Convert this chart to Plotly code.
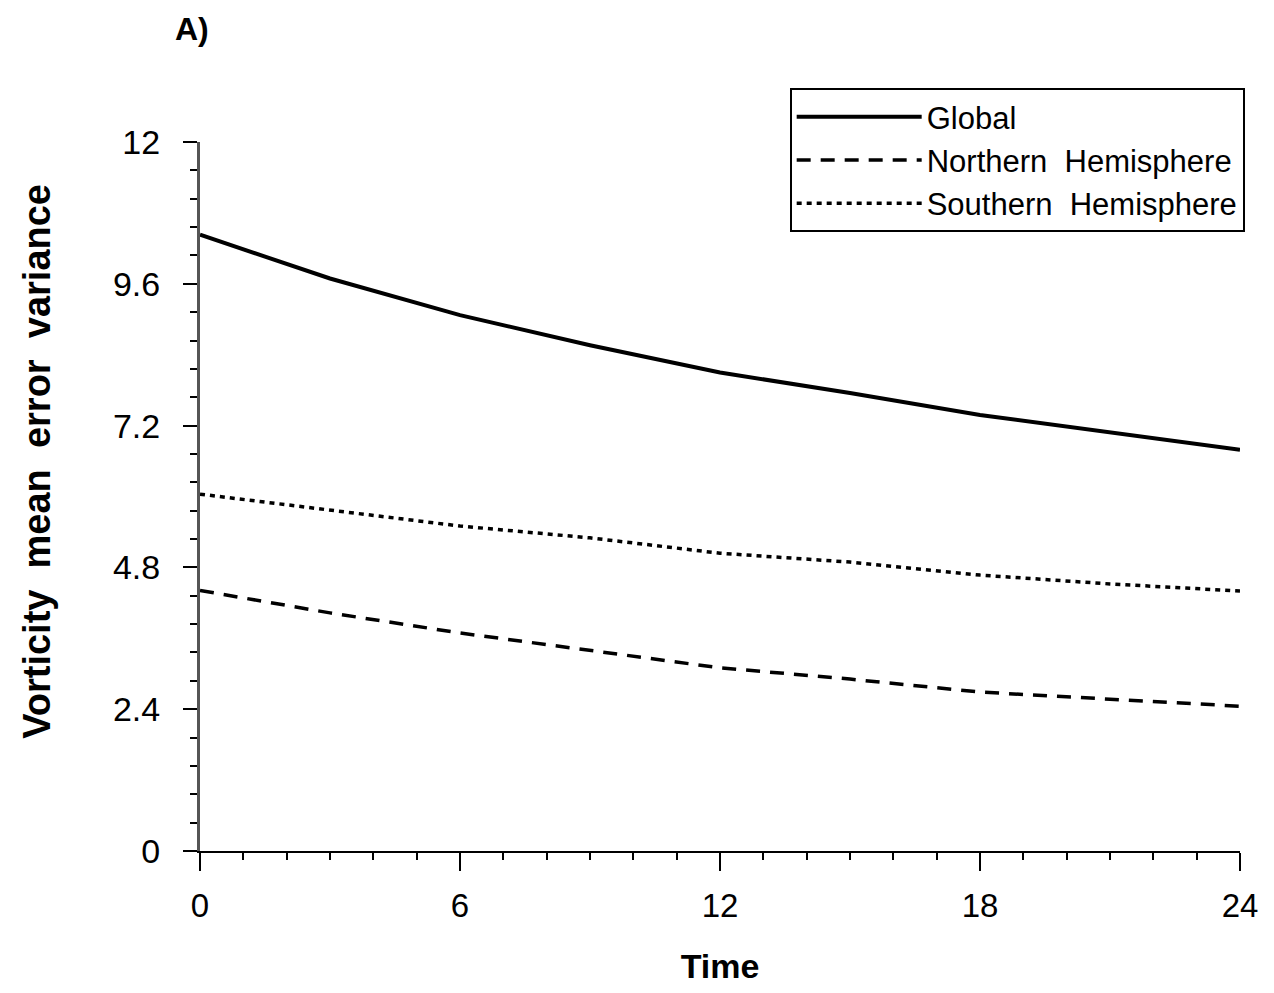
import plotly.graph_objects as go

time_h = [0, 3, 6, 9, 12, 15, 18, 21, 24]
global_var = [10.43, 9.69, 9.07, 8.56, 8.10, 7.75, 7.38, 7.09, 6.79]
north_var = [4.41, 4.03, 3.69, 3.40, 3.10, 2.91, 2.69, 2.57, 2.45]
south_var = [6.04, 5.77, 5.50, 5.30, 5.04, 4.89, 4.67, 4.52, 4.40]

x_ticks = [0, 6, 12, 18, 24]
y_ticks = [0, 2.4, 4.8, 7.2, 9.6, 12]
y_tick_labels = ["0", "2.4", "4.8", "7.2", "9.6", "12"]

FONT = "Liberation Sans, Arial, Helvetica, sans-serif"

fig = go.Figure()
fig.add_trace(go.Scatter(x=time_h, y=global_var, mode="lines", name="Global",
                         line=dict(color="black", width=4, dash="solid")))
fig.add_trace(go.Scatter(x=time_h, y=north_var, mode="lines", name="Northern  Hemisphere",
                         line=dict(color="black", width=3.5, dash="14px,10px")))
fig.add_trace(go.Scatter(x=time_h, y=south_var, mode="lines", name="Southern  Hemisphere",
                         line=dict(color="black", width=3.5, dash="5px,5px")))

fig.update_layout(
    width=1258, height=977,
    margin=dict(l=192, r=26, t=134, b=134, autoexpand=False),
    paper_bgcolor="white", plot_bgcolor="white",
    font=dict(family=FONT, color="black"),
    showlegend=True,
    legend=dict(
        x=0.567, y=1.076, xanchor="left", yanchor="top",
        bgcolor="white", bordercolor="black", borderwidth=2,
        font=dict(size=31, family=FONT, color="black"),
        itemwidth=125, tracegroupgap=0,
    ),
    annotations=[
        dict(text="<b>A)</b>", x=-0.008, xref="paper", xanchor="center",
             y=1.16, yref="paper", yanchor="middle", showarrow=False,
             font=dict(size=32, family=FONT, color="black")),
        dict(text="<b>Vorticity  mean  error  variance</b>", textangle=-90,
             x=-0.157, xref="paper", xanchor="center",
             y=0.55, yref="paper", yanchor="middle", showarrow=False,
             font=dict(size=38, family=FONT, color="black")),
    ],
)

fig.update_xaxes(
    automargin=False,
    range=[0, 24], tickvals=x_ticks, ticktext=[str(v) for v in x_ticks],
    showgrid=False, zeroline=False, showline=True, linecolor="black", linewidth=2,
    ticks="outside", ticklen=18, tickwidth=2, tickcolor="black",
    minor=dict(dtick=1, ticks="outside", ticklen=7, tickwidth=2, tickcolor="black"),
    tickfont=dict(size=33, family=FONT, color="black"),
    ticklabelstandoff=6,
    title=dict(text="<b>Time</b>", font=dict(size=34, family=FONT, color="black"), standoff=38),
)
fig.update_yaxes(
    automargin=False,
    range=[0, 12], tickvals=y_ticks, ticktext=y_tick_labels,
    showgrid=False, zeroline=False, showline=True, linecolor="#555555", linewidth=3,
    ticks="outside", ticklen=14, tickwidth=2, tickcolor="black",
    minor=dict(dtick=0.48, tick0=0, ticks="outside", ticklen=7, tickwidth=2, tickcolor="black"),
    tickfont=dict(size=34, family=FONT, color="black"),
    ticklabelstandoff=16,
)

fig.write_html("out.html")
